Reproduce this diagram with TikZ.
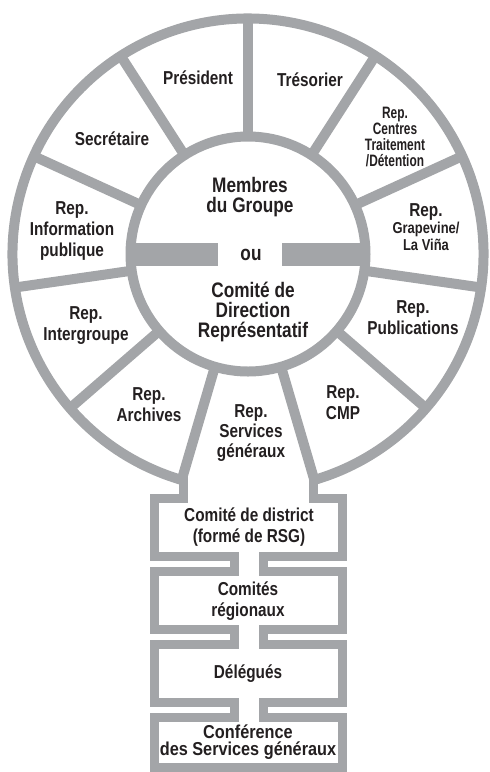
\documentclass[tikz,border=0pt]{standalone}
\usepackage{fontspec}
\newfontfamily\labf[FakeStretch=0.82]{Liberation Sans}
\newfontfamily\labn[FakeStretch=0.72]{Liberation Sans}
\newfontfamily\labw[FakeStretch=0.87]{Liberation Sans}
\definecolor{ring}{RGB}{163,165,168}
\definecolor{ink}{RGB}{35,31,32}
\begin{document}
\begin{tikzpicture}[x=1pt,y=-1pt,
  wall/.style={draw=ring, line width=10pt},
  pipe/.style={draw=ring, line width=9pt, line join=miter},
  lab/.style={text=ink, align=center, inner sep=0pt, font=\labf\bfseries\fontsize{18.7}{21}\selectfont},
  labn/.style={text=ink, align=center, inner sep=0pt, font=\labn\bfseries\fontsize{16.5}{15.8}\selectfont},
  labw/.style={text=ink, align=center, inner sep=0pt, font=\labw\bfseries\fontsize{18.7}{17}\selectfont},
  big/.style={text=ink, align=center, inner sep=0pt, font=\labf\bfseries\fontsize{21}{20}\selectfont}]
\useasboundingbox (0,0) rectangle (490,772);
\coordinate (c) at (248,254);
% inner circle
\draw[wall] (c) circle[radius=117.5];
% outer ring, open at the bottom sector
\draw[wall] (c) ++(106.36:235.5) arc[start angle=106.36, end angle=433.64, radius=235.5];
% radial dividers
\foreach \a in {-90,-57.27,-24.55,8.18,40.91,73.64,106.36,139.09,171.82,204.55,237.27}
  \draw[wall] (c) ++(\a:117.5) -- ++(\a:118);
% bars inside the inner circle
\fill[ring] (127,243) rectangle (218,266);
\fill[ring] (282,243) rectangle (369,266);
% neck and stacked boxes
\draw[pipe] (183,477) -- (183,498) -- (154,498) -- (154,556) -- (234,556) -- (234,571)
  -- (154,571) -- (154,629) -- (234,629) -- (234,644) -- (154,644) -- (154,702)
  -- (234,702) -- (234,717) -- (154,717) -- (154,767) -- (342,767) -- (342,717)
  -- (263,717) -- (263,702) -- (342,702) -- (342,644) -- (263,644) -- (263,629)
  -- (342,629) -- (342,571) -- (263,571) -- (263,556) -- (342,556) -- (342,498)
  -- (313,498) -- (313,477);
% sector labels
\node[lab] (pres) at (198,78) {Président};
\node[lab] (tres) at (310,80) {Trésorier};
\node[lab] (secr) at (112,139) {Secrétaire};
\node[labn] (cent) at (395,137) {Rep.\\Centres\\Traitement\\/Détention};
\node[lab] (info) at (72,231) {Rep.\\Information\\publique};
\node[lab, font=\labf\bfseries\fontsize{18.7}{17}\selectfont] (grap) at (426,227)
  {Rep.\\{\fontsize{15.8}{17}\selectfont Grapevine/}\\{\fontsize{15.8}{17}\selectfont La Viña}};
\node[lab] (publ) at (413,318) {Rep.\\Publications};
\node[lab] (inter) at (86,326) {Rep.\\Intergroupe};
\node[lab] (arch) at (149,405) {Rep.\\Archives};
\node[lab] (cmp) at (343,403) {Rep.\\CMP};
\node[lab, font=\labf\bfseries\fontsize{18.7}{20}\selectfont] (rsg) at (251,433) {Rep.\\Services\\généraux};
% centre
\node[big] (memb) at (250,197) {Membres\\du Groupe};
\node[big] (ou) at (251,255) {ou};
\node[big] (cdr) at (253,312) {Comité de\\Direction\\Représentatif};
% stack
\node[lab] (dist) at (249,527) {Comité de district\\(formé de RSG)};
\node[lab] (reg) at (248,601) {Comités\\régionaux};
\node[lab] (del) at (248,674) {Délégués};
\node[labw] (conf) at (248,742) {Conférence\\des Services généraux};
\end{tikzpicture}
\end{document}
